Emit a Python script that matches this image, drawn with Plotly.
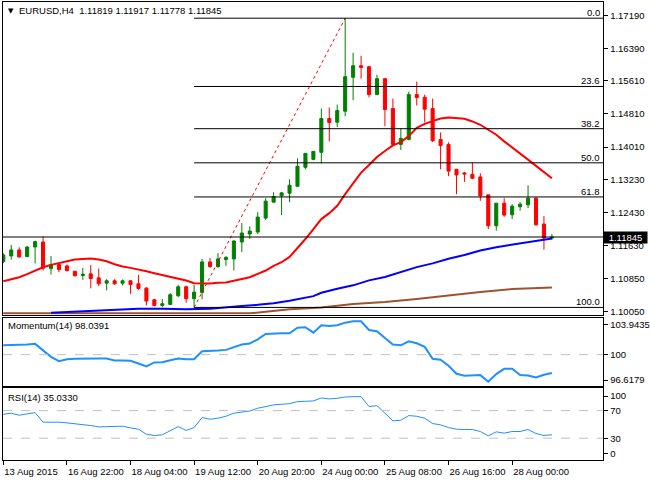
import plotly.graph_objects as go

# ---------------- data (EURUSD H4) ----------------
opens = [1.11253, 1.11389, 1.11533, 1.11373, 1.11605, 1.11725, 1.11085, 1.11181, 1.11149, 1.11021,
         1.10917, 1.10957, 1.10861, 1.10733, 1.10789, 1.10733, 1.10789, 1.10717, 1.10613, 1.10333,
         1.10197, 1.10221, 1.10429, 1.10645, 1.10357, 1.10509, 1.11245, 1.11133, 1.11301, 1.11317,
         1.11725, 1.11917, 1.11965, 1.12301, 1.12685, 1.12837, 1.12901, 1.13069, 1.13525, 1.13717,
         1.13885, 1.14701, 1.14613, 1.14877, 1.15693, 1.15973, 1.15949, 1.15277, 1.15661, 1.14941,
         1.14077, 1.14197, 1.15277, 1.15213, 1.14941, 1.14197, 1.14077, 1.13477, 1.13389, 1.13357,
         1.13293, 1.12861, 1.12117, 1.12661, 1.12381, 1.12573, 1.12621, 1.12781, 1.12157, 1.11819]
highs = [1.11453, 1.11653, 1.11597, 1.11621, 1.11757, 1.11861, 1.11389, 1.11221, 1.11181, 1.11021,
         1.11101, 1.11173, 1.11085, 1.10829, 1.10829, 1.10821, 1.10805, 1.10933, 1.10637, 1.10349,
         1.10349, 1.10493, 1.10693, 1.10677, 1.10693, 1.11317, 1.11341, 1.11453, 1.11389, 1.11765,
         1.12181, 1.12101, 1.12445, 1.12781, 1.12925, 1.12925, 1.13237, 1.13741, 1.13861, 1.13909,
         1.14941, 1.14965, 1.15037, 1.17118, 1.16285, 1.16213, 1.15973, 1.15757, 1.15661, 1.15181,
         1.14461, 1.15349, 1.15589, 1.15277, 1.15181, 1.14365, 1.14125, 1.13477, 1.13413, 1.13637,
         1.13381, 1.12861, 1.12661, 1.12781, 1.12637, 1.12685, 1.13093, 1.12805, 1.12349, 1.11917]
lows = [1.11213, 1.11301, 1.11349, 1.11357, 1.11205, 1.11037, 1.10941, 1.10997, 1.11013, 1.10901,
        1.10813, 1.10605, 1.10661, 1.10557, 1.10693, 1.10677, 1.10477, 1.10573, 1.10197, 1.10173,
        1.10157, 1.10205, 1.10397, 1.10261, 1.10148, 1.10341, 1.11101, 1.11101, 1.11149, 1.11037,
        1.11485, 1.11797, 1.11917, 1.12253, 1.12685, 1.12373, 1.12685, 1.13069, 1.13477, 1.13693,
        1.13621, 1.14149, 1.14493, 1.14757, 1.15141, 1.15661, 1.15213, 1.15277, 1.14517, 1.14077,
        1.13941, 1.14173, 1.15013, 1.14605, 1.14133, 1.13477, 1.13309, 1.12877, 1.13173, 1.13237,
        1.12717, 1.12037, 1.11997, 1.12333, 1.12277, 1.12477, 1.12541, 1.12117, 1.11541, 1.11778]
closes = [1.11413, 1.11533, 1.11365, 1.11605, 1.11733, 1.11093, 1.11181, 1.11061, 1.11037, 1.10909,
          1.10949, 1.10845, 1.10717, 1.10789, 1.10717, 1.10789, 1.10701, 1.10605, 1.10301, 1.10197,
          1.10237, 1.10453, 1.10645, 1.10357, 1.10517, 1.11245, 1.11133, 1.11317, 1.11349, 1.11749,
          1.11941, 1.11989, 1.12325, 1.12709, 1.12821, 1.12909, 1.13093, 1.13549, 1.13861, 1.13909,
          1.14701, 1.14605, 1.14893, 1.15709, 1.15973, 1.15933, 1.15277, 1.15661, 1.14917, 1.14077,
          1.14221, 1.15277, 1.15205, 1.14925, 1.14165, 1.14053, 1.13433, 1.13341, 1.13365, 1.13261,
          1.12837, 1.12117, 1.12661, 1.12373, 1.12589, 1.12637, 1.12781, 1.12141, 1.11820, 1.11845]

ma_fast = [1.10781, 1.10830, 1.10877, 1.10950, 1.11029, 1.11117, 1.11173, 1.11221, 1.11269, 1.11301,
           1.11317, 1.11325, 1.11301, 1.11260, 1.11190, 1.11133, 1.11101, 1.11069, 1.11021, 1.10973,
           1.10933, 1.10893, 1.10845, 1.10797, 1.10733, 1.10725, 1.10725, 1.10741, 1.10749, 1.10789,
           1.10829, 1.10877, 1.10957, 1.11037, 1.11149, 1.11237, 1.11365, 1.11573, 1.11797, 1.12037,
           1.12277, 1.12421, 1.12597, 1.12877, 1.13141, 1.13397, 1.13581, 1.13773, 1.13917, 1.14053,
           1.14133, 1.14277, 1.14477, 1.14573, 1.14637, 1.14701, 1.14725, 1.14717, 1.14694, 1.14630,
           1.14550, 1.14430, 1.14310, 1.14150, 1.14010, 1.13870, 1.13710, 1.13560, 1.13400, 1.13260]

ma_mid_bars = [6, 9, 11, 13, 17, 20, 23, 26, 28, 30, 32, 34, 36, 38, 39, 40, 42, 44, 46, 48,
               50, 52, 54, 56, 58, 60, 62, 64, 66, 68, 69]
ma_mid = [1.10020, 1.10045, 1.10069, 1.10093, 1.10117, 1.10117, 1.10101, 1.10115, 1.10140, 1.10180,
          1.10210, 1.10250, 1.10310, 1.10380, 1.10420, 1.10500, 1.10600, 1.10680, 1.10800, 1.10880,
          1.11000, 1.11120, 1.11210, 1.11320, 1.11410, 1.11520, 1.11600, 1.11660, 1.11710, 1.11770,
          1.11810]

ma_slow_bars = [0, 31, 33, 34.5, 36, 38.4, 40, 44, 48, 52, 56, 60, 64, 69]
ma_slow = [1.10005, 1.10005, 1.10045, 1.10077, 1.10101, 1.10125, 1.10149, 1.10230, 1.10280,
           1.10350, 1.10440, 1.10520, 1.10590, 1.10630]

momentum = [101.00, 101.00, 101.00, 101.08, 101.15, 100.48, 99.77, 99.31, 99.52, 99.56,
            99.59, 99.59, 99.59, 99.59, 99.38, 99.38, 99.34, 99.06, 98.74, 99.17,
            99.20, 99.41, 99.59, 99.52, 99.52, 100.37, 100.37, 100.44, 100.51, 100.83,
            101.08, 101.18, 101.64, 102.21, 102.28, 102.28, 102.28, 102.88, 102.92, 102.35,
            103.13, 103.06, 103.13, 103.41, 103.55, 103.55, 102.63, 102.49, 101.78, 101.08,
            101.00, 101.43, 101.22, 100.83, 99.56, 99.45, 98.81, 97.96, 97.75, 97.75,
            97.82, 97.11, 97.93, 98.49, 98.49, 97.82, 97.78, 97.57, 97.86, 98.0391]

rsi = [64.7, 66.2, 63.3, 64.7, 67.1, 53.2, 53.6, 53.2, 52.2, 51.2,
       50.3, 48.3, 46.4, 46.9, 47.4, 47.4, 45.0, 43.0, 35.8, 33.9,
       34.9, 40.7, 46.9, 41.1, 45.5, 59.9, 57.5, 58.9, 61.8, 66.2,
       67.6, 69.5, 73.4, 76.3, 78.2, 79.2, 80.1, 83.0, 83.5, 84.0,
       88.3, 86.9, 87.8, 89.7, 90.2, 90.2, 75.8, 77.2, 66.2, 55.1,
       56.0, 62.8, 61.8, 58.9, 51.2, 49.3, 45.5, 43.0, 42.6, 42.6,
       39.7, 33.4, 39.2, 37.3, 39.7, 39.7, 42.6, 36.8, 33.9, 35.033]

time_tick_bars = [0, 8, 16, 24, 32, 40, 48, 56, 64]
time_tick_labels = ["13 Aug 2015", "16 Aug 22:00", "18 Aug 04:00", "19 Aug 12:00", "20 Aug 20:00",
                    "24 Aug 00:00", "25 Aug 08:00", "26 Aug 16:00", "28 Aug 00:00"]
price_ticks = [1.17190, 1.16390, 1.15610, 1.14810, 1.14010, 1.13230, 1.12430, 1.11630, 1.10850, 1.10050]
fib_levels = [0.0, 23.6, 38.2, 50.0, 61.8, 100.0]

# ---------------- figure ----------------
W, H = 650, 480
FONT = "Liberation Sans, Arial, sans-serif"
FS = 9.5
bars = list(range(len(opens)))
x_range = [-0.04, 75.46]
x_dom = [3 / W, 607 / W]

def pdom(top_px, bot_px):
    return [1 - bot_px / H, 1 - top_px / H]

fig = go.Figure()

fig.add_trace(go.Candlestick(
    x=bars, open=opens, high=highs, low=lows, close=closes,
    increasing=dict(line=dict(color="#008000", width=1), fillcolor="#008000"),
    decreasing=dict(line=dict(color="#FF0000", width=1), fillcolor="#FF0000"),
    whiskerwidth=0, xaxis="x", yaxis="y", hoverinfo="skip", showlegend=False))

fig.add_trace(go.Scatter(x=ma_slow_bars, y=ma_slow, mode="lines",
                         line=dict(color="#A0522D", width=2), xaxis="x", yaxis="y",
                         hoverinfo="skip", showlegend=False))
fig.add_trace(go.Scatter(x=ma_mid_bars, y=ma_mid, mode="lines",
                         line=dict(color="#0000FF", width=2), xaxis="x", yaxis="y",
                         hoverinfo="skip", showlegend=False))
fig.add_trace(go.Scatter(x=bars, y=ma_fast, mode="lines",
                         line=dict(color="#FF0000", width=2), xaxis="x", yaxis="y",
                         hoverinfo="skip", showlegend=False))

# fibonacci anchors
lo_i = min(bars, key=lambda i: lows[i])
hi_i = max(bars, key=lambda i: highs[i])
fib_lo, fib_hi = lows[lo_i], highs[hi_i]

fig.add_trace(go.Scatter(x=[lo_i, hi_i], y=[fib_lo, fib_hi], mode="lines",
                         line=dict(color="#FF0000", width=1, dash="dot"), xaxis="x", yaxis="y",
                         hoverinfo="skip", showlegend=False))

fig.add_trace(go.Scatter(x=bars, y=momentum, mode="lines",
                         line=dict(color="#1E90FF", width=2), xaxis="x2", yaxis="y2",
                         hoverinfo="skip", showlegend=False))
fig.add_trace(go.Scatter(x=bars, y=rsi, mode="lines",
                         line=dict(color="#1E90FF", width=1), xaxis="x3", yaxis="y3",
                         hoverinfo="skip", showlegend=False))

shapes = []
annotations = []
for lvl in fib_levels:
    p = fib_hi - (fib_hi - fib_lo) * lvl / 100.0
    shapes.append(dict(type="line", xref="x", yref="y", x0=lo_i, x1=x_range[1], y0=p, y1=p,
                       line=dict(color="black", width=1)))
    annotations.append(dict(text=f"{lvl:.1f}", xref="paper", yref="y", x=606 / W, y=p,
                            xanchor="right", yanchor="bottom", showarrow=False, yshift=-2,
                            font=dict(family=FONT, size=FS, color="black")))

last = closes[-1]
shapes.append(dict(type="line", xref="x domain", yref="y", x0=0, x1=1, y0=last, y1=last,
                   line=dict(color="black", width=1)))
shapes.append(dict(type="line", xref="x2 domain", yref="y2", x0=0, x1=1, y0=100, y1=100,
                   line=dict(color="#C0C0C0", width=1, dash="dash")))
for lv in (30, 70):
    shapes.append(dict(type="line", xref="x3 domain", yref="y3", x0=0, x1=1, y0=lv, y1=lv,
                       line=dict(color="#C0C0C0", width=1, dash="dash")))

annotations.append(dict(text=f"{last:.5f}", xref="paper", yref="y", x=607 / W, y=last,
                        xanchor="left", yanchor="middle", showarrow=False, bgcolor="black",
                        width=41, height=9, borderpad=1,
                        font=dict(family=FONT, size=FS, color="white")))
annotations.append(dict(text="\u25BC", xref="paper", yref="paper", x=6 / W, y=1 - 11 / H,
                        xanchor="left", yanchor="middle", showarrow=False,
                        font=dict(family="DejaVu Sans", size=7, color="black")))
annotations.append(dict(
    text=f"EURUSD,H4\u00a0\u00a0{opens[-1]:.5f} {highs[-1]:.5f} {lows[-1]:.5f} {closes[-1]:.5f}",
    xref="paper", yref="paper", x=17 / W, y=1 - 11 / H, xanchor="left", yanchor="middle",
    showarrow=False, font=dict(family=FONT, size=FS, color="black")))
annotations.append(dict(text=f"Momentum(14) {momentum[-1]:.4f}", xref="paper", yref="paper",
                        x=6 / W, y=1 - 327 / H, xanchor="left", yanchor="middle", showarrow=False,
                        font=dict(family=FONT, size=FS, color="black")))
annotations.append(dict(text=f"RSI(14) {rsi[-1]:.4f}", xref="paper", yref="paper",
                        x=6 / W, y=1 - 399 / H, xanchor="left", yanchor="middle", showarrow=False,
                        font=dict(family=FONT, size=FS, color="black")))

axis_common = dict(showgrid=False, zeroline=False, showline=True, mirror=True,
                   linecolor="black", linewidth=1, fixedrange=True)
tickfont = dict(family=FONT, size=FS, color="black")

fig.update_layout(
    width=W, height=H, margin=dict(l=0, r=0, t=0, b=0),
    paper_bgcolor="white", plot_bgcolor="white", showlegend=False,
    boxgap=0.45,
    xaxis=dict(domain=x_dom, range=x_range, anchor="y", showticklabels=False, ticks="",
               rangeslider=dict(visible=False), **axis_common),
    xaxis2=dict(domain=x_dom, range=x_range, anchor="y2", matches="x", showticklabels=False,
                ticks="", **axis_common),
    xaxis3=dict(domain=x_dom, range=x_range, anchor="y3", matches="x",
                tickvals=time_tick_bars, ticktext=time_tick_labels, ticks="outside", ticklen=4,
                tickcolor="black", ticklabelposition="outside right", ticklabelstandoff=3,
                tickangle=0, tickfont=tickfont, **axis_common),
    yaxis=dict(domain=pdom(2, 316), range=[1.09973, 1.17509], anchor="x", side="right",
               tickvals=price_ticks, ticktext=[f"{v:.5f}" for v in price_ticks],
               ticks="outside", ticklen=4, tickcolor="black", tickfont=tickfont, **axis_common),
    yaxis2=dict(domain=pdom(319, 388), range=[96.6179, 103.9435], anchor="x2", side="right",
                tickvals=[103.23, 100, 97.29], ticktext=["103.9435", "100", "96.6179"],
                ticks="outside", ticklen=4, tickcolor="black", tickfont=tickfont, **axis_common),
    yaxis3=dict(domain=pdom(390, 462), range=[-1.7, 102.2], anchor="x3", side="right",
                tickvals=[91, 70, 30, 7.4], ticktext=["100", "70", "30", "0"],
                ticks="outside", ticklen=4, tickcolor="black", tickfont=tickfont, **axis_common),
    shapes=shapes, annotations=annotations,
)

fig.write_html("out.html", config={"displayModeBar": False, "staticPlot": True},
               post_script="document.body.style.margin='0';document.body.style.overflow='hidden';")
